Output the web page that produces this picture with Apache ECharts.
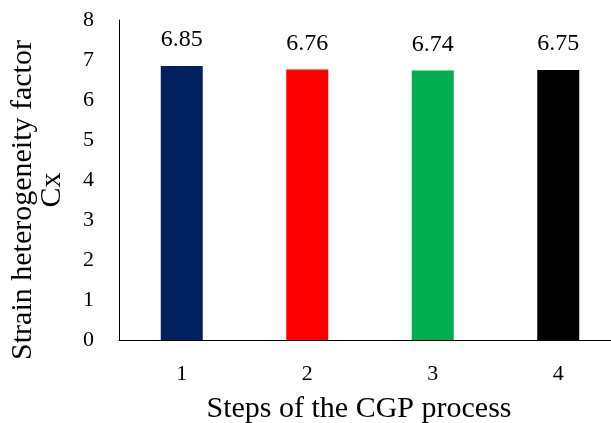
<!DOCTYPE html>
<html>
<head>
<meta charset="utf-8">
<script src="https://cdn.jsdelivr.net/npm/echarts@6/dist/echarts.min.js"></script>
<style>
  html, body { margin: 0; padding: 0; background: #fff; }
  #chart { width: 611px; height: 423px; }
</style>
</head>
<body>
<div id="chart"></div>
<script>
// CGP process steps and their strain heterogeneity factor Cx
const steps = ['1', '2', '3', '4'];
const cxValues = [6.85, 6.76, 6.74, 6.75];
const barColors = ['#002060', '#FF0000', '#00B050', '#000000'];
const yTicks = { min: 0, max: 8, interval: 1 };

const font = '"Liberation Serif", "Times New Roman", serif';
const chart = echarts.init(document.getElementById('chart'));

const nameStyle = { fontFamily: font, fontSize: 30, color: '#000', lineHeight: 29 };

chart.setOption({
  animation: false,
  backgroundColor: '#ffffff',
  grid: {
    left: 119, right: -10, top: 20, bottom: 83,
    containLabel: false,
    outerBoundsMode: 'none'
  },
  xAxis: {
    type: 'category',
    data: steps,
    name: 'Steps of the CGP process',
    nameLocation: 'middle',
    nameGap: 54,
    nameTextStyle: { fontFamily: font, fontSize: 30, color: '#000', padding: [0, 22, 0, 0] },
    axisLine: { lineStyle: { color: '#000', width: 1 } },
    axisTick: { show: false },
    axisLabel: { fontFamily: font, fontSize: 22, color: '#000', margin: 23 }
  },
  yAxis: {
    type: 'value',
    min: yTicks.min,
    max: yTicks.max,
    interval: yTicks.interval,
    name: '{a|Strain heterogeneity factor}\n{b|Cx}',
    nameLocation: 'middle',
    nameRotate: 90,
    nameGap: 52,
    nameTextStyle: Object.assign({}, nameStyle, {
      padding: [0, 40, 0, 0],
      rich: {
        a: nameStyle,
        b: Object.assign({}, nameStyle, { padding: [0, 0, 0, 20] })
      }
    }),
    axisLine: { show: true, lineStyle: { color: '#000', width: 1 } },
    axisTick: { show: false },
    splitLine: { show: false },
    axisLabel: { fontFamily: font, fontSize: 22, color: '#000', margin: 25 }
  },
  series: [{
    type: 'bar',
    barWidth: 42,
    data: cxValues.map((v, i) => ({ value: v, itemStyle: { color: barColors[i] } })),
    label: {
      show: true,
      position: 'top',
      distance: 14,
      fontFamily: font,
      fontSize: 24,
      color: '#000',
      formatter: p => p.value.toFixed(2)
    }
  }]
});
</script>
</body>
</html>
